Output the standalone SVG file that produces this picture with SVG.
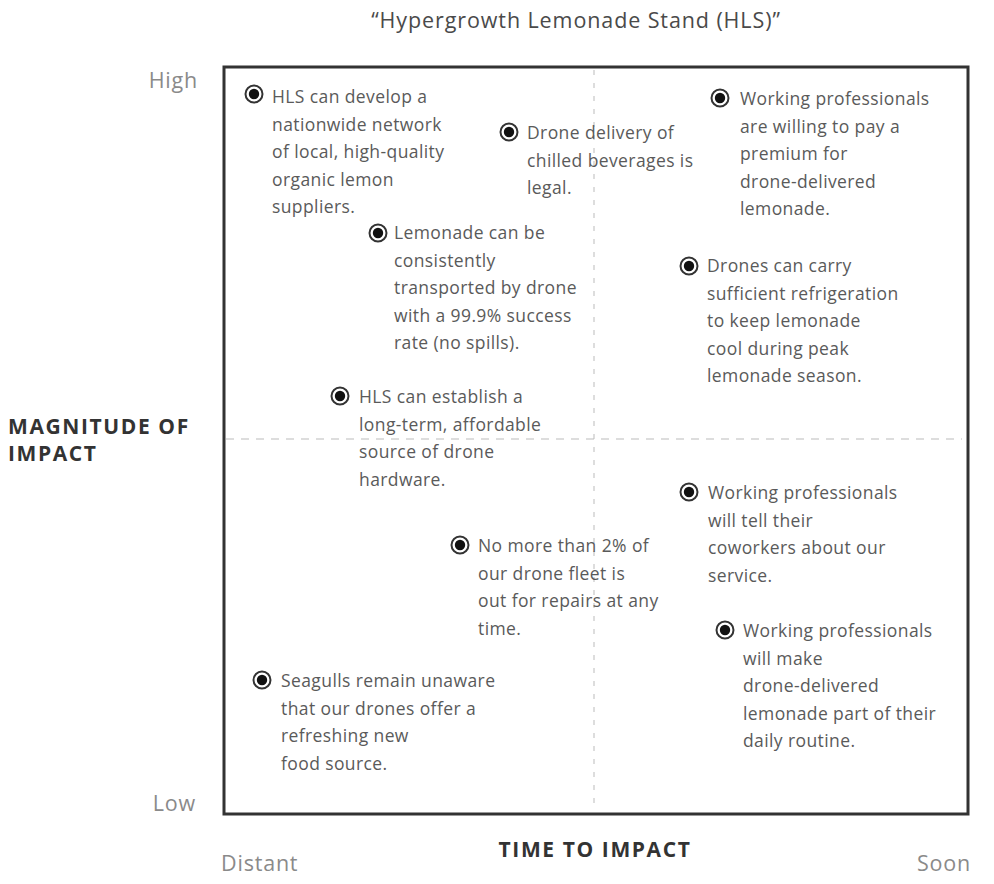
<svg xmlns="http://www.w3.org/2000/svg" width="994" height="884" viewBox="0 0 994 884">
<style>
.t{font-family:"Open Sans","Liberation Sans",sans-serif;font-size:17.5px;letter-spacing:0.4px;fill:#5a5a5a}
.ax{font-family:"Open Sans","Liberation Sans",sans-serif;font-size:21.5px;letter-spacing:0.8px;fill:#8a8a8a}
.lb{font-family:"Open Sans","Liberation Sans",sans-serif;font-size:21px;font-weight:700;letter-spacing:1.6px;fill:#333}
.ti{font-family:"Open Sans","Liberation Sans",sans-serif;font-size:21.5px;letter-spacing:0.9px;fill:#4a4a4a}
.bo{fill:#fff;stroke:#333;stroke-width:2}
.bi{fill:#111}
</style>
<defs>
<g id="bul"><circle class="bo" r="8.5"/><circle class="bi" r="5.2"/></g>
</defs>
<rect width="994" height="884" fill="#fff"/>
<text class="ti" x="576" y="28" text-anchor="middle">“Hypergrowth Lemonade Stand (HLS)”</text>
<g id="axes">
<rect x="224" y="67" width="744" height="747" fill="none" stroke="#333" stroke-width="3"/>
<line x1="594" y1="70" x2="594" y2="811" stroke="#bbb" stroke-width="1" stroke-dasharray="5 8"/>
<line x1="226" y1="439" x2="962" y2="439" stroke="#bbb" stroke-width="1.2" stroke-dasharray="8 7"/>
<text class="ax" x="198" y="88" text-anchor="end">High</text>
<text class="ax" x="196" y="811" text-anchor="end">Low</text>
<text class="ax" x="221" y="871">Distant</text>
<text class="ax" x="971" y="871" text-anchor="end">Soon</text>
<text class="lb" x="595" y="857" text-anchor="middle">TIME TO IMPACT</text>
<text class="lb" x="8" y="434">MAGNITUDE OF</text>
<text class="lb" x="8" y="461">IMPACT</text>
</g>
<g id="n1"><use href="#bul" x="254" y="94"/><text class="t" x="272" y="103"><tspan x="272">HLS can develop a</tspan><tspan x="272" dy="27.5">nationwide network</tspan><tspan x="272" dy="27.5">of local, high-quality</tspan><tspan x="272" dy="27.5">organic lemon</tspan><tspan x="272" dy="27.5">suppliers.</tspan></text></g>
<g id="n2"><use href="#bul" x="509" y="132"/><text class="t" x="527" y="139"><tspan x="527">Drone delivery of</tspan><tspan x="527" dy="27.5">chilled beverages is</tspan><tspan x="527" dy="27.5">legal.</tspan></text></g>
<g id="n3"><use href="#bul" x="720" y="98"/><text class="t" x="740" y="105"><tspan x="740">Working professionals</tspan><tspan x="740" dy="27.5">are willing to pay a</tspan><tspan x="740" dy="27.5">premium for</tspan><tspan x="740" dy="27.5">drone-delivered</tspan><tspan x="740" dy="27.5">lemonade.</tspan></text></g>
<g id="n4"><use href="#bul" x="378" y="233"/><text class="t" x="394" y="239"><tspan x="394">Lemonade can be</tspan><tspan x="394" dy="27.5">consistently</tspan><tspan x="394" dy="27.5">transported by drone</tspan><tspan x="394" dy="27.5">with a 99.9% success</tspan><tspan x="394" dy="27.5">rate (no spills).</tspan></text></g>
<g id="n5"><use href="#bul" x="689" y="266"/><text class="t" x="707" y="272"><tspan x="707">Drones can carry</tspan><tspan x="707" dy="27.5">sufficient refrigeration</tspan><tspan x="707" dy="27.5">to keep lemonade</tspan><tspan x="707" dy="27.5">cool during peak</tspan><tspan x="707" dy="27.5">lemonade season.</tspan></text></g>
<g id="n6"><use href="#bul" x="340" y="396"/><text class="t" x="359" y="403"><tspan x="359">HLS can establish a</tspan><tspan x="359" dy="27.5">long-term, affordable</tspan><tspan x="359" dy="27.5">source of drone</tspan><tspan x="359" dy="27.5">hardware.</tspan></text></g>
<g id="n7"><use href="#bul" x="689" y="492"/><text class="t" x="708" y="499"><tspan x="708">Working professionals</tspan><tspan x="708" dy="27.5">will tell their</tspan><tspan x="708" dy="27.5">coworkers about our</tspan><tspan x="708" dy="27.5">service.</tspan></text></g>
<g id="n8"><use href="#bul" x="460" y="545"/><text class="t" x="478" y="552"><tspan x="478">No more than 2% of</tspan><tspan x="478" dy="27.5">our drone fleet is</tspan><tspan x="478" dy="27.5">out for repairs at any</tspan><tspan x="478" dy="27.5">time.</tspan></text></g>
<g id="n9"><use href="#bul" x="725" y="630"/><text class="t" x="743" y="637"><tspan x="743">Working professionals</tspan><tspan x="743" dy="27.5">will make</tspan><tspan x="743" dy="27.5">drone-delivered</tspan><tspan x="743" dy="27.5">lemonade part of their</tspan><tspan x="743" dy="27.5">daily routine.</tspan></text></g>
<g id="n10"><use href="#bul" x="262" y="680"/><text class="t" x="281" y="687"><tspan x="281">Seagulls remain unaware</tspan><tspan x="281" dy="27.5">that our drones offer a</tspan><tspan x="281" dy="27.5">refreshing new</tspan><tspan x="281" dy="27.5">food source.</tspan></text></g>
</svg>
